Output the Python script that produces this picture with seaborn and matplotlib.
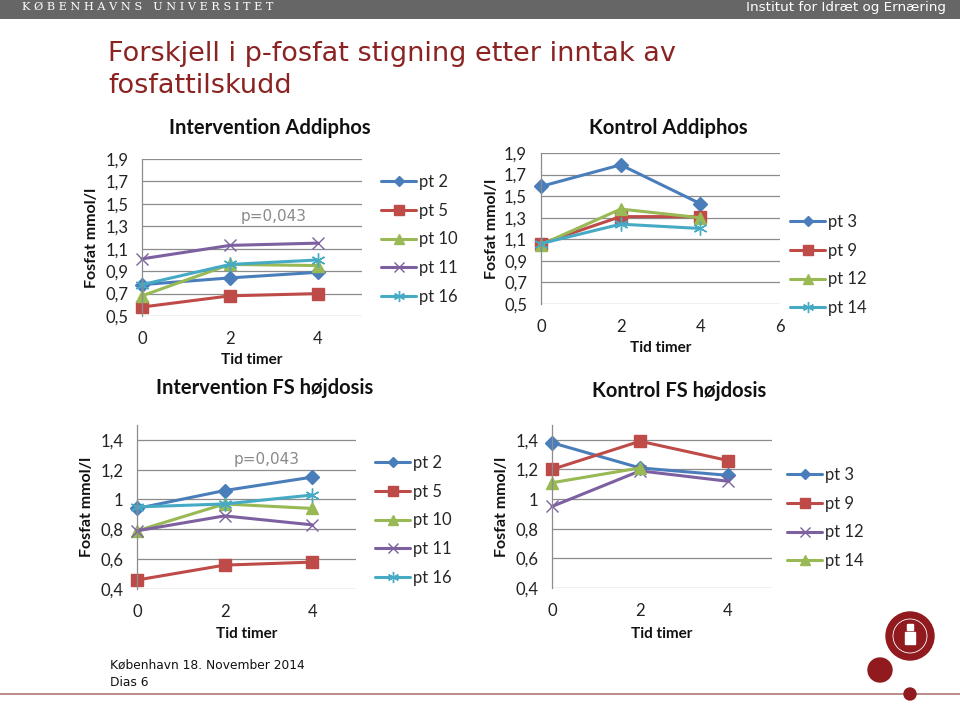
import matplotlib
matplotlib.use("Agg")
import matplotlib.pyplot as plt
from matplotlib.patches import Circle, Rectangle
from matplotlib.lines import Line2D
import seaborn as sns
import numpy as np
import pandas as pd

# ---- data ----
tid = [0, 2, 4]

# Intervention Addiphos
ia_labels = ["pt 2", "pt 5", "pt 10", "pt 11", "pt 16"]
ia_pt2 = [0.78, 0.84, 0.89]
ia_pt5 = [0.58, 0.68, 0.70]
ia_pt10 = [0.68, 0.96, 0.95]
ia_pt11 = [1.01, 1.13, 1.15]
ia_pt16 = [0.78, 0.96, 1.00]

# Kontrol Addiphos
ka_labels = ["pt 3", "pt 9", "pt 12", "pt 14"]
ka_pt3 = [1.59, 1.79, 1.43]
ka_pt9 = [1.06, 1.31, 1.31]
ka_pt12 = [1.05, 1.38, 1.30]
ka_pt14 = [1.06, 1.24, 1.20]

# Intervention FS hoejdosis
ifs_labels = ["pt 2", "pt 5", "pt 10", "pt 11", "pt 16"]
ifs_pt2 = [0.94, 1.06, 1.15]
ifs_pt5 = [0.46, 0.56, 0.58]
ifs_pt10 = [0.79, 0.97, 0.94]
ifs_pt11 = [0.79, 0.89, 0.83]
ifs_pt16 = [0.95, 0.97, 1.03]

# Kontrol FS hoejdosis
kfs_labels = ["pt 3", "pt 9", "pt 12", "pt 14"]
kfs_pt3 = [1.38, 1.21, 1.16]
kfs_pt9 = [1.20, 1.39, 1.26]
kfs_pt12 = [0.95, 1.19, 1.12]
kfs_pt14 = [1.11, 1.21, np.nan]

BLUE = "#4A7EBB"
RED = "#BE4B48"
GREEN = "#98B954"
PURPLE = "#7D60A0"
CYAN = "#46AAC5"
STAR = (6, 2, 0)

sns.set_theme(style="white")
plt.rcParams["font.family"] = ["Lato", "DejaVu Sans"]

fig = plt.figure(figsize=(9.6, 7.04), dpi=100)
fig.patch.set_facecolor("white")


def panel(rect, series, styles, title, xlim, xticks, ylim, yticks, ytick_fmt,
          title_xy, xlabel_y, ylabel_x, leg_xy, ptext=None):
    ax = fig.add_axes(rect)
    for (label, vals), (col, mk, ms) in zip(series, styles):
        df = pd.DataFrame({"tid": tid, "fosfat": vals}).dropna()
        sns.lineplot(data=df, x="tid", y="fosfat", ax=ax, color=col, lw=2.2,
                     marker=mk, markersize=ms, markeredgecolor=col,
                     markerfacecolor=col if mk not in ("x", STAR) else "none",
                     markeredgewidth=1.0,
                     label=label, legend=False, clip_on=False)
    ax.set_xlim(*xlim)
    ax.set_ylim(*ylim)
    ax.set_xticks(xticks)
    ax.set_yticks(yticks)
    ax.set_yticklabels([ytick_fmt(v) for v in yticks])
    ax.tick_params(axis="both", labelsize=12, length=0, colors="#222222")
    ax.tick_params(axis="x", pad=11)
    ax.tick_params(axis="y", pad=10)
    ax.grid(axis="y", color="#8c8c8c", lw=0.9)
    ax.set_axisbelow(True)
    for s in ("top", "right", "bottom"):
        ax.spines[s].set_visible(False)
    ax.spines["left"].set_color("#8c8c8c")
    ax.spines["left"].set_linewidth(0.9)
    ax.set_xlabel("")
    ax.set_ylabel("")
    l, b, w, h = rect
    fig.text(title_xy[0], title_xy[1], title, ha="center", va="center",
             fontsize=14.5, fontweight="bold", color="#111111")
    fig.text(l + w / 2, xlabel_y, "Tid timer", ha="center", va="center",
             fontsize=11, fontweight="bold", color="#111111")
    fig.text(ylabel_x, b + h / 2, "Fosfat mmol/l", ha="center", va="center",
             rotation=90, fontsize=11.5, fontweight="bold", color="#111111")
    handles = [Line2D([], [], color=c, lw=2.2, marker=m, markersize=ms * 0.8,
                      markeredgecolor=c,
                      markerfacecolor=c if m not in ("x", STAR) else "none")
               for c, m, ms in styles]
    fig.legend(handles, [s[0] for s in series], loc="upper left",
               bbox_to_anchor=leg_xy, frameon=False, fontsize=12,
               handlelength=2.1, handletextpad=0.2, labelspacing=0.76,
               borderpad=0, borderaxespad=0)
    if ptext:
        ax.text(ptext[0], ptext[1], "p=0,043", ha="center", va="center",
                fontsize=11, color="#8a8a8a", family="DejaVu Sans")
    return ax


fmt1 = lambda v: f"{v:.1f}".replace(".", ",")
fmt2 = lambda v: "1" if abs(v - 1) < 1e-9 else f"{v:.1f}".replace(".", ",")

sty5 = [(BLUE, "D", 7), (RED, "s", 9), (GREEN, "^", 9), (PURPLE, "x", 9), (CYAN, STAR, 10)]
sty4a = [(BLUE, "D", 7), (RED, "s", 9), (GREEN, "^", 9), (CYAN, STAR, 10)]
sty4b = [(BLUE, "D", 7), (RED, "s", 9), (PURPLE, "x", 9), (GREEN, "^", 9)]

yt_a = [0.5, 0.7, 0.9, 1.1, 1.3, 1.5, 1.7, 1.9]
yt_b = [0.4, 0.6, 0.8, 1.0, 1.2, 1.4]

panel([0.1479, 0.5511, 0.2292, 0.2230],
      list(zip(ia_labels, [ia_pt2, ia_pt5, ia_pt10, ia_pt11, ia_pt16])), sty5,
      "Intervention Addiphos", (0, 5), [0, 2, 4], (0.5, 1.9), yt_a, fmt1,
      (270 / 960, 1 - 128 / 704), 1 - 360 / 704, 92 / 960, (381 / 960, 1 - 174 / 704),
      ptext=(3.0, 1.39))

panel([0.5635, 0.5682, 0.2490, 0.2145],
      list(zip(ka_labels, [ka_pt3, ka_pt9, ka_pt12, ka_pt14])), sty4a,
      "Kontrol Addiphos", (0, 6), [0, 2, 4, 6], (0.5, 1.9), yt_a, fmt1,
      (668 / 960, 1 - 128 / 704), 1 - 348 / 704, 492 / 960, (790 / 960, 1 - 214 / 704))

panel([0.1427, 0.1634, 0.2281, 0.2330],
      list(zip(ifs_labels, [ifs_pt2, ifs_pt5, ifs_pt10, ifs_pt11, ifs_pt16])), sty5,
      "Intervention FS højdosis", (0, 5), [0, 2, 4], (0.4, 1.5), yt_b, fmt2,
      (265 / 960, 1 - 388 / 704), 1 - 634 / 704, 87 / 960, (375 / 960, 1 - 455 / 704),
      ptext=(2.95, 1.27))

panel([0.5750, 0.1648, 0.2292, 0.2316],
      list(zip(kfs_labels, [kfs_pt3, kfs_pt9, kfs_pt12, kfs_pt14])), sty4b,
      "Kontrol FS højdosis", (0, 5), [0, 2, 4], (0.4, 1.5), yt_b, fmt2,
      (679 / 960, 1 - 391 / 704), 1 - 634 / 704, 502 / 960, (787 / 960, 1 - 467 / 704))

# ---- slide frame ----
fig.add_artist(Rectangle((0, 1 - 19 / 704), 1, 19 / 704, transform=fig.transFigure,
                         facecolor="#666666", edgecolor="none"))
fig.text(22 / 960, 1 - 7 / 704, "K Ø B E N H A V N S   U N I V E R S I T E T",
         ha="left", va="center", fontsize=8.1, color="white", family="DejaVu Serif")
fig.text(946 / 960, 1 - 8 / 704, "Institut for Idræt og Ernæring", ha="right",
         va="center", fontsize=9.7, color="white", family="DejaVu Sans")

fig.text(108 / 960, 1 - 54 / 704, "Forskjell i p-fosfat stigning etter inntak av",
         ha="left", va="center", fontsize=19.5, color="#8B2323", family="DejaVu Sans")
fig.text(108 / 960, 1 - 86 / 704, "fosfattilskudd",
         ha="left", va="center", fontsize=19.5, color="#8B2323", family="DejaVu Sans")

fig.text(110 / 960, 1 - 665 / 704, "København 18. November 2014", ha="left",
         va="center", fontsize=8.8, color="#111111", family="DejaVu Sans")
fig.text(110 / 960, 1 - 683 / 704, "Dias 6", ha="left", va="center",
         fontsize=8.8, color="#111111", family="DejaVu Sans")

fig.add_artist(Line2D([0, 1], [1 - 694 / 704] * 2, transform=fig.transFigure,
                      color="#B07878", lw=1.2))

KU = "#901A1E"
ax_logo = fig.add_axes([0, 0, 1, 1], zorder=10)
ax_logo.set_xlim(0, 960)
ax_logo.set_ylim(704, 0)
ax_logo.axis("off")
ax_logo.set_aspect("equal")
ax_logo.add_patch(Circle((910, 636), 24, color=KU))
ax_logo.add_patch(Circle((910, 636), 17, fill=False, ec="white", lw=0.6))
ax_logo.add_patch(Rectangle((905, 632), 10, 12, color="white"))
ax_logo.add_patch(Rectangle((907, 624), 6, 6, color="white"))
ax_logo.add_patch(Circle((880, 670), 12, color=KU))
ax_logo.add_patch(Circle((910, 694), 6, color=KU))

fig.savefig("out.png", dpi=100)
